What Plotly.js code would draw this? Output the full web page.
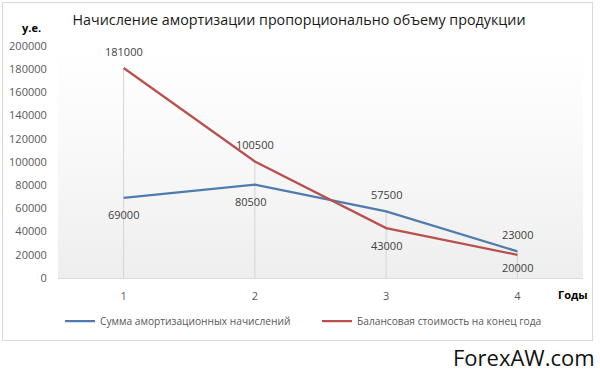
<!DOCTYPE html>
<html><head><meta charset="utf-8">
<script src="https://cdn.plot.ly/plotly-3.0.1.min.js"></script>
<style>
html,body{margin:0;padding:0;background:#fff;}
#wrap{position:relative;width:600px;height:375px;overflow:hidden;background:#fff;}
#frame{position:absolute;left:2px;top:2px;width:591px;height:339px;border:1px solid #d9d9d9;box-sizing:border-box;}
#grad{position:absolute;left:58px;top:46px;width:525px;height:232px;background:linear-gradient(to bottom,#ffffff 0%,#f7f7f7 55%,#eeeeee 100%);}
#chart{position:absolute;left:0;top:0;width:600px;height:375px;}
</style></head><body>
<div id="wrap"><div id="frame"></div><div id="grad"></div><div id="chart"></div></div>
<script>
// ---- data ----
const years = [1, 2, 3, 4];
const depreciation = [69000, 80500, 57500, 23000];
const bookValue = [181000, 100500, 43000, 20000];
const seriesNames = ['Сумма амортизационных начислений', 'Балансовая стоимость на конец года'];
const yTickVals = [0, 20000, 40000, 60000, 80000, 100000, 120000, 140000, 160000, 180000, 200000];
const xTickLabels = ['1', '2', '3', '4'];
const chartTitle = 'Начисление амортизации пропорционально объему продукции';
const yUnitLabel = 'у.е.';
const xUnitLabel = 'Годы';
const watermark = 'ForexAW.com';

// ---- style ----
const FONT = 'Open Sans, Noto Sans, DejaVu Sans, sans-serif';
const BLUE = '#4f7cac';
const RED = '#b9504d';
const depLabelSide = [-1, -1, 1, 1];
const bookLabelSide = [1, 1, -1, -1];

// plot area in pixels: left 58, right 583, top 46, bottom 278
const PL = 58, PR = 583, PT = 46, PB = 278;
const px = x => (x - PL) / (PR - PL);
const py = y => (PB - y) / (PB - PT);

// drop lines from the highest point to the axis
const dropX = [], dropY = [];
years.forEach((yr, i) => {
  dropX.push(yr, yr, null);
  dropY.push(0, Math.max(depreciation[i], bookValue[i]), null);
});

const traces = [
  {x: dropX, y: dropY, mode: 'lines', line: {color: '#d4d4d4', width: 1},
   hoverinfo: 'skip', showlegend: false},
  {x: years, y: depreciation, name: seriesNames[0], mode: 'lines',
   line: {color: BLUE, width: 2.25}},
  {x: years, y: bookValue, name: seriesNames[1], mode: 'lines',
   line: {color: RED, width: 2.25}}
];

const labelFont = {family: FONT, size: 11, color: '#404040'};
const annotations = [];
years.forEach((yr, i) => {
  annotations.push({x: yr, y: depreciation[i], text: String(depreciation[i]),
    showarrow: false, yshift: 17 * depLabelSide[i], xshift: (i === 1 ? -4 : 0), font: labelFont});
  annotations.push({x: yr, y: bookValue[i], text: String(bookValue[i]),
    showarrow: false, yshift: (i === 3 ? 13 : 17) * bookLabelSide[i], font: labelFont});
});
annotations.push({xref: 'paper', yref: 'paper', x: px(31), y: py(27), text: '<b>' + yUnitLabel + '</b>',
  showarrow: false, xanchor: 'center', yanchor: 'middle', font: {family: FONT, size: 11, color: '#000'}});
annotations.push({xref: 'paper', yref: 'paper', x: px(573), y: py(294), text: '<b>' + xUnitLabel + '</b>',
  showarrow: false, xanchor: 'center', yanchor: 'middle', font: {family: FONT, size: 11, color: '#000'}});
annotations.push({xref: 'paper', yref: 'paper', x: px(597), y: py(357), text: watermark,
  showarrow: false, xanchor: 'right', yanchor: 'middle', font: {family: FONT, size: 22, color: '#111'}});

const layout = {
  width: 600, height: 375,
  margin: {l: PL, r: 600 - PR, t: PT, b: 375 - PB},
  paper_bgcolor: 'rgba(0,0,0,0)', plot_bgcolor: 'rgba(0,0,0,0)',
  font: {family: FONT, size: 11, color: '#595959'},
  title: {text: chartTitle, xref: 'paper', x: px(299), xanchor: 'center',
          yref: 'container', y: 1 - 20 / 375, yanchor: 'middle',
          font: {family: FONT, size: 14.3, color: '#1a1a1a'}},
  xaxis: {range: [0.5, 4.5], tickvals: years, ticktext: xTickLabels,
          showgrid: false, zeroline: false, showline: true, linecolor: '#d9d9d9', linewidth: 1,
          ticks: 'outside', ticklen: 8, tickcolor: 'rgba(0,0,0,0)',
          tickfont: {family: FONT, size: 11, color: '#595959'}, fixedrange: true},
  yaxis: {range: [0, 200000], tickvals: yTickVals, tickformat: 'd',
          showgrid: false, zeroline: false, showline: false,
          ticks: 'outside', ticklen: 8, tickcolor: 'rgba(0,0,0,0)',
          tickfont: {family: FONT, size: 11, color: '#595959'}, fixedrange: true},
  showlegend: true,
  legend: {orientation: 'h', x: px(60), xanchor: 'left', y: py(321), yanchor: 'middle',
           entrywidthmode: 'pixels', entrywidth: 212, bgcolor: 'rgba(0,0,0,0)',
           font: {family: FONT, size: 10.2, color: '#595959'}},
  annotations: annotations
};

Plotly.newPlot('chart', traces, layout, {displayModeBar: false, staticPlot: true});
</script>
</body></html>
